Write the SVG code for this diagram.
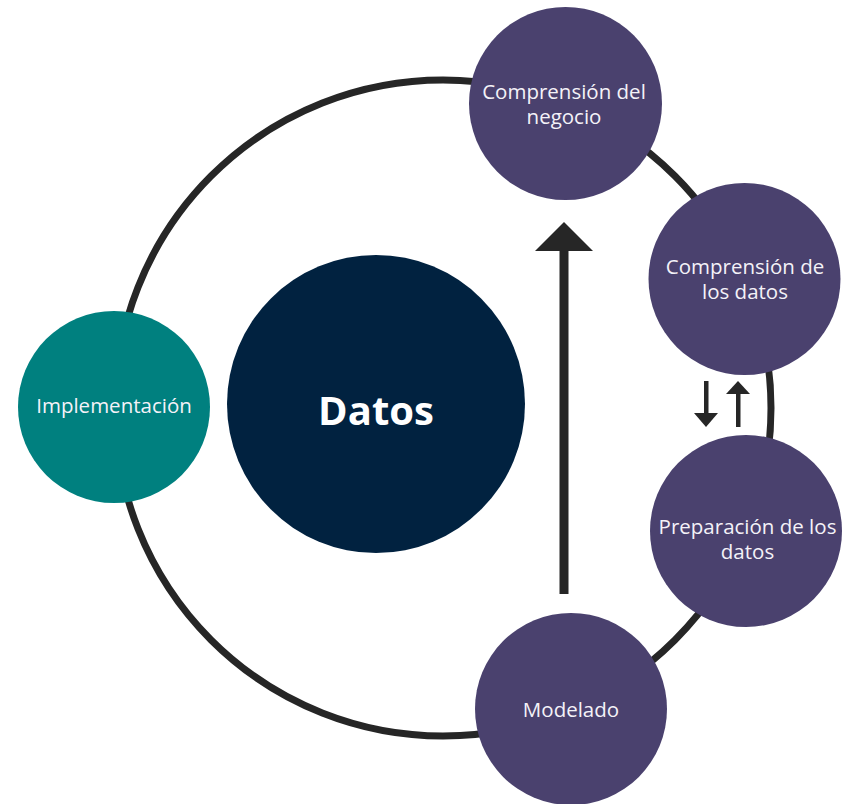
<svg xmlns="http://www.w3.org/2000/svg" width="849" height="804" viewBox="0 0 849 804">
  <style>
    .stage { fill: #4a416e; }
    .label { fill: #f4f2f8; font-family: "Open Sans", "Noto Sans", sans-serif; font-size: 20.5px; font-weight: 500; text-anchor: middle; }
    .ring { fill: none; stroke: #262626; stroke-width: 7; }
    .arrow { fill: #262626; }
  </style>
  <rect width="849" height="804" fill="#ffffff"/>

  <!-- cycle ring and flow arrows -->
  <g id="connectors">
    <circle class="ring" cx="443" cy="408" r="328"/>
    <!-- main upward arrow: Modelado back to business understanding -->
    <rect class="arrow" x="559.5" y="248" width="9" height="346"/>
    <polygon class="arrow" points="564,222 593,251 535,251"/>
    <!-- two-way arrows between data understanding and preparation -->
    <rect class="arrow" x="704" y="381" width="4.5" height="34"/>
    <polygon class="arrow" points="694,413 718,413 706,427"/>
    <rect class="arrow" x="736" y="391" width="4.5" height="36"/>
    <polygon class="arrow" points="738,381 750,394 726,394"/>
  </g>

  <g id="datos">
    <circle cx="376" cy="404" r="149" fill="#012240"/>
    <text x="376" y="425" fill="#ffffff" font-family="'Open Sans', 'Noto Sans', sans-serif" font-weight="bold" font-size="40" text-anchor="middle">Datos</text>
  </g>

  <g id="negocio">
    <circle class="stage" cx="565.5" cy="103.5" r="96.5"/>
    <text class="label" x="564" y="99">Comprensión del</text>
    <text class="label" x="564" y="124">negocio</text>
  </g>

  <g id="comprension-datos">
    <circle class="stage" cx="744.5" cy="279" r="96"/>
    <text class="label" x="745" y="274">Comprensión de</text>
    <text class="label" x="745" y="299">los datos</text>
  </g>

  <g id="preparacion">
    <circle class="stage" cx="746" cy="531" r="96"/>
    <text class="label" x="747.5" y="534">Preparación de los</text>
    <text class="label" x="747.5" y="559">datos</text>
  </g>

  <g id="modelado">
    <circle class="stage" cx="571" cy="709" r="96"/>
    <text class="label" x="571" y="717">Modelado</text>
  </g>

  <g id="implementacion">
    <circle cx="114" cy="407" r="96" fill="#00807f"/>
    <text class="label" x="114" y="413">Implementación</text>
  </g>
</svg>
